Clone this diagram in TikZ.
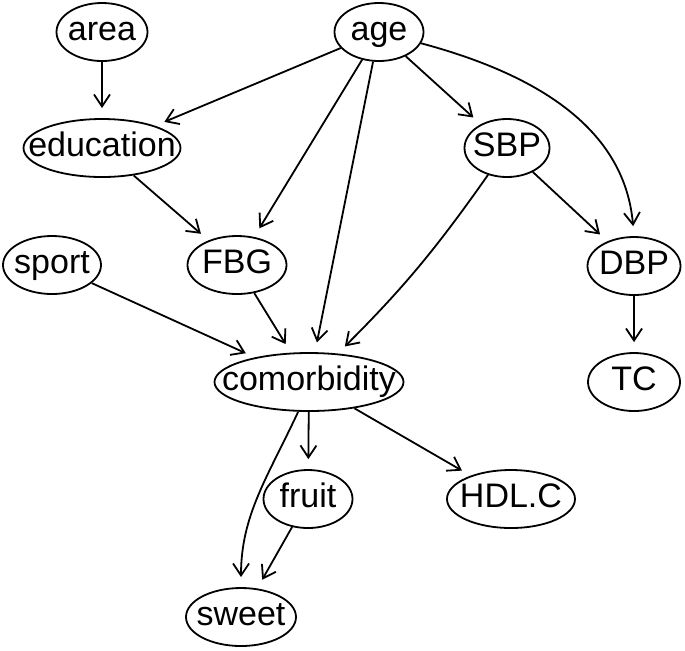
\documentclass[tikz,border=0pt]{standalone}
\usepackage{fontspec}
\setmainfont{Liberation Sans}
\usepackage{tikz}
\usetikzlibrary{arrows.meta, shapes.geometric}
\newcommand{\vname}[1]{\makebox[0pt]{#1}}

\begin{document}
\begin{tikzpicture}[x=0.5pt, y=-0.5pt,
  var/.style={draw, ellipse, line width=0.9pt, inner sep=0pt, minimum height=29pt,
    text height=12.4pt, text depth=3.5pt, font=\fontsize{17}{20}\selectfont},
  arr/.style={-{Straight Barb[length=6pt, width=8pt, line width=0.9pt]}, line width=0.9pt, shorten >=5pt}]
  \useasboundingbox (0,0) rectangle (685,650);
  % top row
  \node[var, minimum width=45.5pt] (area) at (102,32) {\vname{area}};
  \node[var, minimum width=44.5pt] (age) at (379,32) {\vname{age}};
  \node[var, minimum width=78.5pt] (educ) at (102,148) {\vname{education}};
  \node[var, minimum width=42.5pt] (sbp) at (507,148) {\vname{SBP}};
  % middle
  \node[var, minimum width=49pt] (sport) at (52,265) {\vname{sport}};
  \node[var, minimum width=49.5pt] (fbg) at (237,265) {\vname{FBG}};
  \node[var, minimum width=46.5pt] (dbp) at (634,266) {\vname{DBP}};
  \node[var, minimum width=94.5pt] (comorb) at (309,382) {\vname{comorbidity}};
  \node[var, minimum width=46pt] (tc) at (634,382) {\vname{TC}};
  % bottom
  \node[var, minimum width=44.5pt] (fruit) at (308,499) {\vname{fruit}};
  \node[var, minimum width=64pt] (hdlc) at (511,499) {\vname{HDL.C}};
  \node[var, minimum width=55pt] (sweet) at (241,617) {\vname{sweet}};

  \draw[arr] (area) -- (educ);
  \draw[arr] (age) -- (educ);
  \draw[arr] (age) -- (fbg);
  \draw[arr] (age) -- (comorb);
  \draw[arr] (age) -- (sbp);
  \draw[arr] (age.-15) to[out=-15, in=95] (dbp.north);
  \draw[arr] (educ) -- (fbg);
  \draw[arr] (sbp) -- (dbp);
  \draw[arr] (sbp) to[bend left=5] (comorb);
  \draw[arr] (sport) -- (comorb);
  \draw[arr] (fbg) -- (comorb);
  \draw[arr] (dbp) -- (tc);
  \draw[arr] (comorb.-110) to[out=-115, in=90] (sweet.north);
  \draw[arr] (comorb) -- (fruit);
  \draw[arr] (comorb) -- (hdlc);
  \draw[arr] (fruit) -- (sweet);
\end{tikzpicture}
\end{document}
